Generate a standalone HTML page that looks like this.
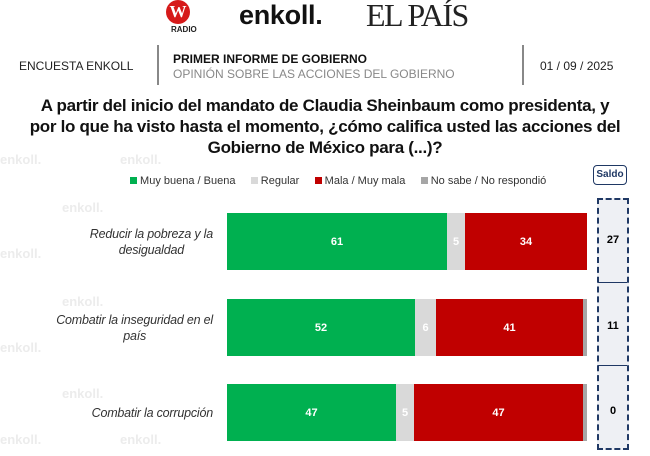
<!DOCTYPE html>
<html><head><meta charset="utf-8"><style>
body{margin:0;width:650px;height:456px;background:#fff;position:relative;overflow:hidden;font-family:"Liberation Sans",sans-serif}
.a{position:absolute;white-space:nowrap}
.wm{position:absolute;color:#ececec;font-weight:bold;font-size:13px}
.bar{position:absolute;height:57px;color:#fff;font-weight:bold;font-size:11px;display:flex;align-items:center;justify-content:center}
.lab{position:absolute;right:437px;text-align:center;font-style:italic;font-size:12.5px;color:#333;line-height:16px;letter-spacing:-0.2px}
</style></head><body>
<div class="wm" style="left:0;top:152px">enkoll.</div><div class="wm" style="left:120px;top:152px">enkoll.</div><div class="wm" style="left:0;top:246px">enkoll.</div><div class="wm" style="left:0;top:340px">enkoll.</div><div class="wm" style="left:0;top:432px">enkoll.</div><div class="wm" style="left:120px;top:432px">enkoll.</div><div class="wm" style="left:62px;top:200px">enkoll.</div><div class="wm" style="left:62px;top:294px">enkoll.</div><div class="wm" style="left:62px;top:386px">enkoll.</div>
<!-- logos -->
<div class="a" style="left:160px;top:0;width:36px;height:28px;">
<div style="position:absolute;left:6px;top:0;width:24px;height:24px;border-radius:50%;background:#d61a1a;color:#fff;font-weight:bold;font-size:17px;text-align:center;line-height:24px;font-family:'Liberation Serif',serif">W</div></div>
<div class="a" style="left:171px;top:25px;font-size:8px;font-weight:bold;color:#222">RADIO</div>
<div class="a" style="left:239px;top:0px;font-size:27px;font-weight:bold;color:#111;letter-spacing:-0.3px">enkoll.</div>
<div class="a" style="left:366px;top:-3px;font-size:32px;font-family:'Liberation Serif',serif;color:#222;letter-spacing:-1.5px">EL PAÍS</div>
<!-- header row -->
<div class="a" style="left:19px;top:59px;font-size:12px;color:#222">ENCUESTA ENKOLL</div>
<div class="a" style="left:157px;top:45px;width:1.5px;height:40px;background:#888"></div>
<div class="a" style="left:173px;top:52px;font-size:12px;font-weight:bold;color:#111">PRIMER INFORME DE GOBIERNO</div>
<div class="a" style="left:173px;top:67px;font-size:12px;color:#888">OPINIÓN SOBRE LAS ACCIONES DEL GOBIERNO</div>
<div class="a" style="left:522px;top:45px;width:1.5px;height:40px;background:#888"></div>
<div class="a" style="left:540px;top:59px;font-size:12px;color:#222">01 / 09 / 2025</div>
<!-- question -->
<div class="a" style="left:0;width:650px;top:95px;text-align:center;font-size:17px;font-weight:bold;color:#111;line-height:21px;letter-spacing:-0.3px">A partir del inicio del mandato de Claudia Sheinbaum como presidenta, y<br>por lo que ha visto hasta el momento, ¿cómo califica usted las acciones del<br>Gobierno de México para (...)?</div>
<!-- legend -->
<div class="a" style="left:130px;top:175px;font-size:11px;color:#333">
<span style="display:inline-block;width:7px;height:7px;background:#00b050"></span> Muy buena / Buena &nbsp;&nbsp;&nbsp;
<span style="display:inline-block;width:7px;height:7px;background:#d9d9d9"></span> Regular &nbsp;&nbsp;&nbsp;
<span style="display:inline-block;width:7px;height:7px;background:#c00000"></span> Mala / Muy mala &nbsp;&nbsp;&nbsp;
<span style="display:inline-block;width:7px;height:7px;background:#a6a6a6"></span> No sabe / No respondió</div>
<div class="a" style="left:593px;top:165px;width:32px;height:18px;border:1.5px solid #1f3864;border-radius:4px;font-size:10px;font-weight:bold;color:#1f3864;text-align:center;line-height:18px">Saldo</div>
<!-- labels -->
<div class="lab" style="top:226px">Reducir la pobreza y la<br>desigualdad</div>
<div class="lab" style="top:312px">Combatir la inseguridad en el<br>país</div>
<div class="lab" style="top:405px">Combatir la corrupción</div>
<!-- bars -->
<div class="bar" style="top:213px;left:227px;width:220px;background:#00b050">61</div>
<div class="bar" style="top:213px;left:447px;width:18px;background:#d9d9d9">5</div>
<div class="bar" style="top:213px;left:465px;width:122px;background:#c00000">34</div>
<div class="bar" style="top:299px;left:227px;width:188px;background:#00b050">52</div>
<div class="bar" style="top:299px;left:415px;width:21px;background:#d9d9d9">6</div>
<div class="bar" style="top:299px;left:436px;width:147px;background:#c00000">41</div>
<div class="bar" style="top:299px;left:583px;width:4px;background:#a6a6a6"></div>
<div class="bar" style="top:384px;left:227px;width:169px;background:#00b050">47</div>
<div class="bar" style="top:384px;left:396px;width:18px;background:#d9d9d9">5</div>
<div class="bar" style="top:384px;left:414px;width:169px;background:#c00000">47</div>
<div class="bar" style="top:384px;left:583px;width:4px;background:#a6a6a6"></div>
<!-- saldo -->
<div class="a" style="left:597px;top:198px;width:28px;height:248px;border:2px dashed #1f3864;background:#eef0f4"></div>
<div class="a" style="left:598px;top:282px;width:29px;height:1px;background:#1f3864"></div>
<div class="a" style="left:598px;top:365px;width:29px;height:1px;background:#1f3864"></div>
<div class="a" style="left:597px;width:32px;text-align:center;top:234px;font-size:11px;font-weight:bold">27</div>
<div class="a" style="left:597px;width:32px;text-align:center;top:320px;font-size:11px;font-weight:bold">11</div>
<div class="a" style="left:597px;width:32px;text-align:center;top:405px;font-size:11px;font-weight:bold">0</div>
</body></html>
